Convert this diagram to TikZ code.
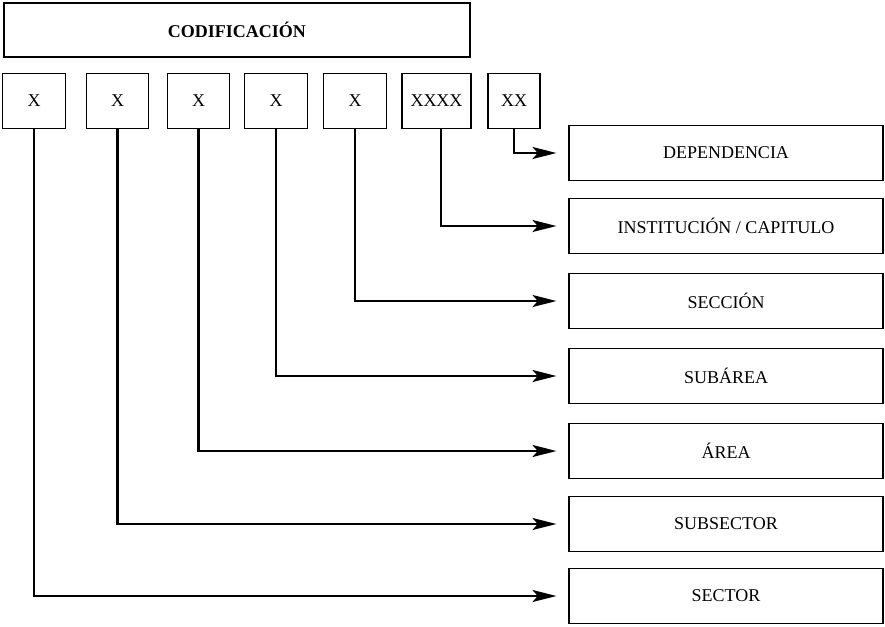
\documentclass[tikz,border=0pt]{standalone}
\usepackage{fontspec}
\setmainfont{Liberation Serif}
\usepackage{tikz}
\usetikzlibrary{arrows.meta,positioning}

\tikzset{
    codebox/.style={draw, thick, minimum width=47pt, minimum height=41.25pt,
        inner sep=0pt, font=\fontsize{13.5}{16}\selectfont},
    levelbox/.style={draw, thick, minimum width=235.5pt, minimum height=41.25pt,
        inner sep=0pt, font=\fontsize{13.5}{16}\selectfont},
    conn/.style={line width=1.8pt, -{Stealth[length=18pt, width=9pt, inset=4pt]}, shorten >=9pt}
}

\begin{document}
\begin{tikzpicture}[x=0.75pt, y=-0.75pt]
    \useasboundingbox (0,0) rectangle (885,626);

    % Title box
    \node[draw, thick, minimum width=349.5pt, minimum height=40.5pt, inner sep=0pt,
        font=\fontsize{13.5}{16}\selectfont\bfseries] (title) at (237,30) {CODIFICACIÓN};

    % Code digits
    \node[codebox] (c1) at (34,101) {X};
    \node[codebox] (c2) at (117.5,101) {X};
    \node[codebox] (c3) at (198.5,101) {X};
    \node[codebox] (c4) at (276,101) {X};
    \node[codebox] (c5) at (355,101) {X};
    \node[codebox, minimum width=51.75pt] (c6) at (436.5,101) {XXXX};
    \node[codebox, minimum width=39pt] (c7) at (514,101) {XX};

    % Meaning of each digit
    \node[levelbox] (dependencia) at (726,153) {DEPENDENCIA};
    \node[levelbox] (institucion) at (726,226) {INSTITUCIÓN / CAPITULO};
    \node[levelbox] (seccion) at (726,301) {SECCIÓN};
    \node[levelbox] (subarea) at (726,376) {SUBÁREA};
    \node[levelbox] (area) at (726,451) {ÁREA};
    \node[levelbox] (subsector) at (726,524) {SUBSECTOR};
    \node[levelbox] (sector) at (726,596) {SECTOR};

    % Connectors from digits to meanings
    \draw[conn] (c7.south) |- (dependencia);
    \draw[conn] ([xshift=3.5pt]c6.south) |- (institucion);
    \draw[conn] (c5.south) |- (seccion);
    \draw[conn] (c4.south) |- (subarea);
    \draw[conn] (c3.south) |- (area);
    \draw[conn] (c2.south) |- (subsector);
    \draw[conn] (c1.south) |- (sector);
\end{tikzpicture}
\end{document}
